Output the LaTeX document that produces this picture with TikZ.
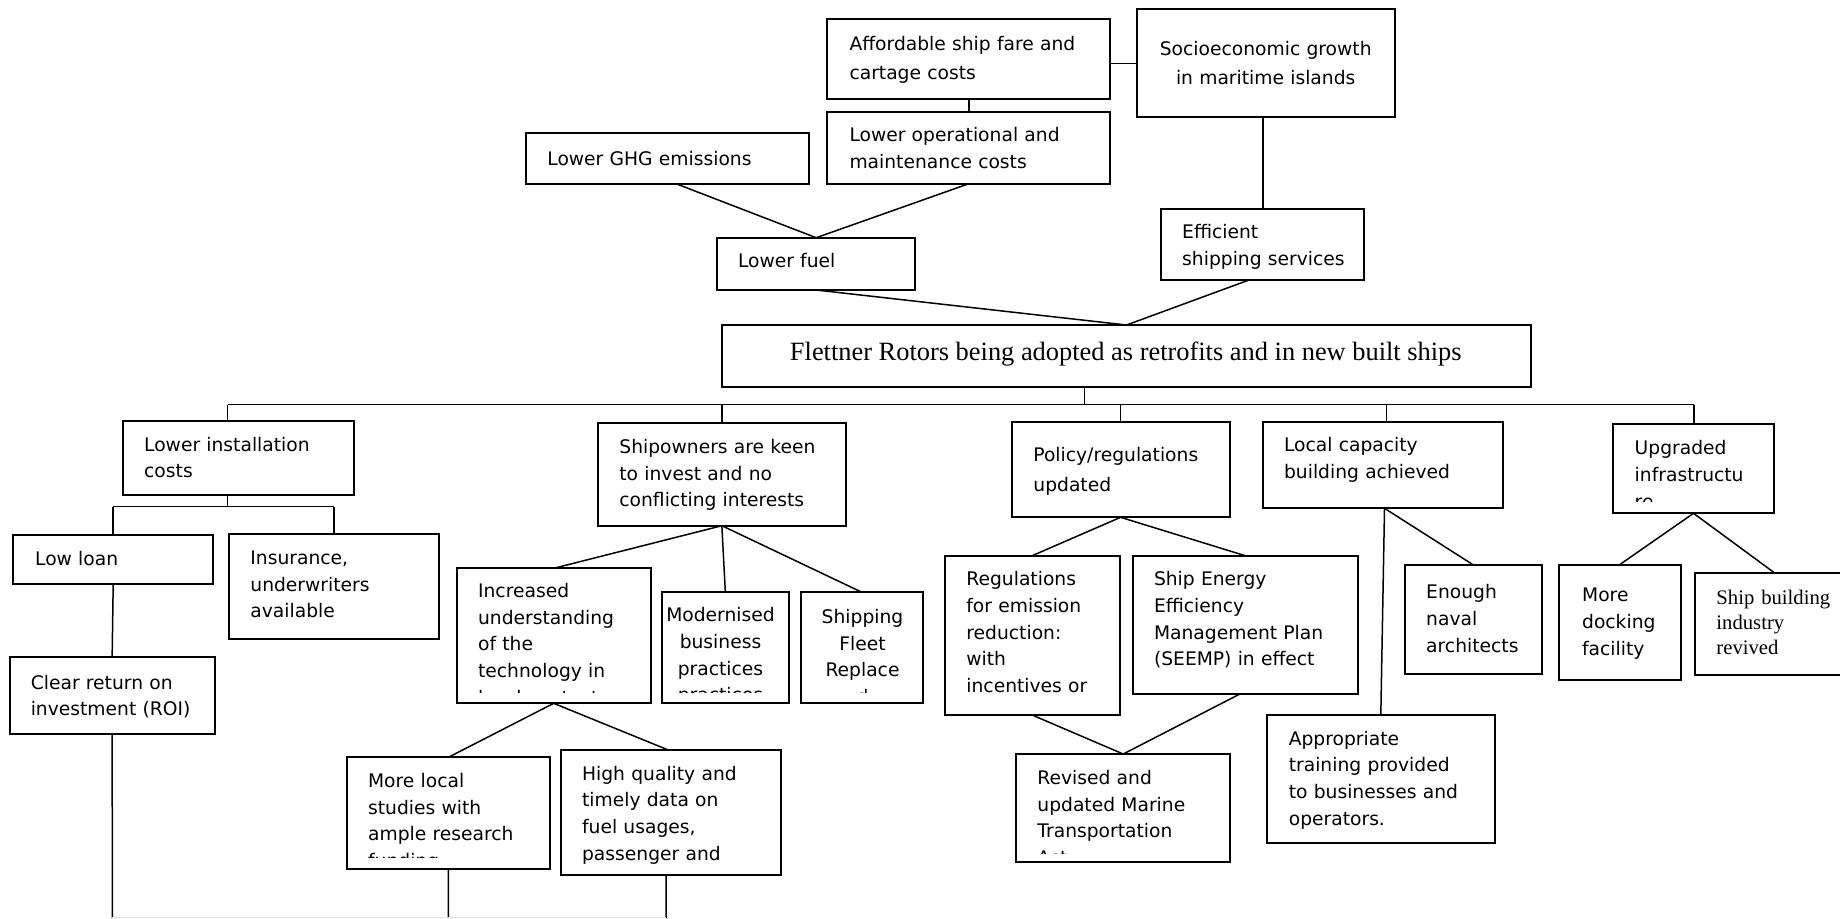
\documentclass[tikz,border=0pt]{standalone}
\usepackage{fontspec}
\setmainfont{DejaVu Sans}
\newfontfamily\timesfam{Liberation Serif}
% box from (x1,y1) to (x2,y2), coordinates in pixel units
\newcommand\mkbox[5]{\node[box, minimum width={(#4-#2)*0.5pt}, minimum height={(#5-#3)*0.5pt}] (#1) at (#2,#3) {};}
\newcommand\lh[1]{\fontsize{9.35pt}{#1}\selectfont}
\begin{document}
\begin{tikzpicture}[x=0.5pt,y=-0.5pt,
  box/.style={draw, fill=white, line width=1pt, inner sep=0pt, outer sep=0pt, anchor=north west},
  link/.style={line width=0.75pt},
  txt/.style={inner sep=0pt, anchor=base west, text width=170pt, align=left, font=\lh{13.35pt}},
  ctxt/.style={txt, anchor=base, align=center, text width=125pt},
]
\useasboundingbox (0,0) rectangle (1840,918);

% ---------- boxes ----------
\mkbox{afford}{827.4}{19}{1110.2}{99.3}
\mkbox{socio}{1136.6}{9.3}{1394.8}{117.3}
\mkbox{lowop}{827.4}{112.3}{1110.2}{183.7}
\mkbox{ghg}{526.4}{132.7}{808.6}{183.7}
\mkbox{fuel}{717}{237.7}{915.4}{290}
\mkbox{effic}{1161.3}{209}{1364.3}{280}
\mkbox{flet}{722.2}{325}{1530.8}{386.7}
\mkbox{inst}{122.8}{420.7}{354}{495}
\mkbox{loan}{13.4}{535}{213}{584.3}
\mkbox{ins}{229}{534}{438.8}{639}
\mkbox{roi}{9.6}{656.7}{214.7}{734}
\mkbox{ship}{597.7}{423.3}{846}{525.7}
\mkbox{incr}{456.7}{568.3}{650.7}{703.3}
\mkbox{mod}{661.7}{592.3}{789}{703.3}
\mkbox{fleet}{801}{592.3}{923}{703.3}
\mkbox{study}{346.7}{757.3}{550}{869}
\mkbox{hq}{560.7}{750}{780.7}{875}
\mkbox{pol}{1011.5}{421.7}{1229.7}{517.3}
\mkbox{loc}{1263.3}{421.7}{1502.5}{508.3}
\mkbox{upg}{1613}{424}{1774}{513.3}
\mkbox{reg}{944.8}{555.7}{1119.5}{715}
\mkbox{seemp}{1133}{555.7}{1357.5}{694.2}
\mkbox{rev}{1016}{754}{1230.4}{862.3}
\mkbox{appr}{1267}{715}{1494.6}{842.7}
\mkbox{enough}{1405.4}{565}{1541.5}{674}
\mkbox{dock}{1559}{564.5}{1680.7}{680}
\mkbox{shipb}{1695}{572.5}{1853}{674.5}

% ---------- texts ----------
\node[txt, font=\lh{14.35pt}] (t-afford) at (849.1,50.7) {Affordable ship fare and\\cartage costs};
\node[ctxt, font=\lh{14.15pt}] (t-socio) at (1265.7,55.7) {Socioeconomic growth\\in maritime islands};
\node[txt] (t-lowop) at (849.1,141.7) {Lower operational and\\maintenance costs};
\node[txt] (t-ghg) at (547,165.7) {Lower GHG emissions};
\node[txt] (t-fuel) at (737.6,267.7) {Lower fuel};
\node[txt] (t-effic) at (1181.8,238.3) {Efficient\\shipping services};
\node[inner sep=0pt, anchor=base, font=\timesfam\fontsize{13.2pt}{15pt}\selectfont] (t-flet) at (1125.8,360)
  {Flettner Rotors being adopted as retrofits and in new built ships};
\node[txt] (t-inst) at (143.8,451) {Lower installation\\costs};
\node[txt] (t-loan) at (34.8,565.7) {Low loan};
\node[txt] (t-ins) at (250,564.3) {Insurance,\\underwriters\\available};
\node[txt] (t-roi) at (30.4,689) {Clear return on\\investment (ROI)};
\node[txt] (t-ship) at (619,453.3) {Shipowners are keen\\to invest and no\\conflicting interests};
\begin{scope}
  \clip (456.7,568.3) rectangle (650.7,692.7);
  \node[txt] (t-incr) at (477.7,597.3) {Increased\\understanding\\of the\\technology in\\local context};
\end{scope}
\begin{scope}
  \clip (661.7,592.3) rectangle (789,692.7);
  \node[ctxt] (t-mod) at (720.5,621.7) {Modernised\\business\\practices\\practices};
\end{scope}
\begin{scope}
  \clip (801,592.3) rectangle (923,692);
  \node[ctxt] (t-fleet) at (862.5,623.3) {Shipping\\Fleet\\Replace\\d};
\end{scope}
\node[txt, font=\lh{14.65pt}] (t-pol) at (1033,461.7) {Policy/regulations\\updated};
\node[txt] (t-loc) at (1283.7,451.7) {Local capacity\\building achieved};
\begin{scope}
  \clip (1613,424) rectangle (1774,501.7);
  \node[txt, font=\lh{13.5pt}] (t-upg) at (1634.3,454) {Upgraded\\infrastructu\\re};
\end{scope}
\node[txt] (t-reg) at (966,585.7) {Regulations\\for emission\\reduction:\\with\\incentives or};
\node[txt] (t-seemp) at (1153.6,585.7) {Ship Energy\\Efficiency\\Management Plan\\(SEEMP) in effect};
\node[txt, font=\lh{13.5pt}] (t-enough) at (1425.8,598.3) {Enough\\naval\\architects};
\node[txt, font=\lh{13.5pt}] (t-dock) at (1581.7,601.7) {More\\docking\\facility};
\node[txt, font=\timesfam\fontsize{10.35pt}{12.65pt}\selectfont] (t-shipb) at (1716,604.3) {Ship building\\industry\\revived};
\begin{scope}
  \clip (1016,754) rectangle (1230.4,853);
  \node[txt] (t-rev) at (1037,784.3) {Revised and\\updated Marine\\Transportation\\Act};
\end{scope}
\node[txt] (t-appr) at (1288.4,745) {Appropriate\\training provided\\to businesses and\\operators.};
\begin{scope}
  \clip (346.7,757.3) rectangle (550,857);
  \node[txt] (t-study) at (367.7,787.3) {More local\\studies with\\ample research\\funding};
\end{scope}
\node[txt] (t-hq) at (581.7,780) {High quality and\\timely data on\\fuel usages,\\passenger and};

% ---------- connectors: upper part ----------
\draw[link] (socio.west) -- (socio.west -| afford.east);
\draw[link] (afford.south) -- (lowop.north);
\draw[link] ([xshift=4.25pt]ghg.south) -- (fuel.north);
\draw[link] (lowop.south) -- (fuel.north);
\draw[link] (effic.north) -- (effic.north |- socio.south);
\draw[link] (fuel.south) -- (flet.north);
\draw[link] ([xshift=-6.9pt]effic.south) -- (flet.north);

% ---------- main bus under the central box ----------
\coordinate (busL) at (227.7,404.5);
\coordinate (busR) at (1694,404.5);
\coordinate (fdrop) at ([xshift=-20.9pt]flet.south);
\draw[link] (busL) -- (busR);
\draw[link] (fdrop) -- (fdrop |- busR);
\draw[link] (busL) -- (busL |- inst.north);
\draw[link] (ship.north) -- (ship.north |- busL);
\draw[link] (pol.north) -- (pol.north |- busL);
\draw[link] ([xshift=1.8pt]loc.north) -- ([xshift=1.8pt]loc.north |- busL);
\draw[link] (busR) -- (busR |- upg.north);

% ---------- left branch ----------
\coordinate (ibus) at (227.7,506.7);
\draw[link] (busL |- inst.south) -- (ibus);
\draw[link] (loan.north |- ibus) -- (ins.north |- ibus);
\draw[link] (loan.north |- ibus) -- (loan.north);
\draw[link] (ins.north |- ibus) -- (ins.north);
\draw[link] (loan.south) -- (roi.north);
\coordinate (endA) at (112.4,918);
\coordinate (endB) at (448.3,918);
\coordinate (endC) at (666,918);
\draw[link] (roi.south) -- (endA);

% ---------- shipowners branch ----------
\draw[link] (ship.south) -- (incr.north);
\draw[link] (ship.south) -- (mod.north);
\draw[link] (ship.south) -- (fleet.north);
\draw[link] (incr.south) -- (study.north);
\draw[link] (incr.south) -- ([xshift=-1.2pt]hq.north);
\draw[link] (study.south) -- (endB);
\draw[link] ([xshift=-2.3pt]hq.south) -- (endC);
\draw[black!10, line width=0.5pt] (endA) ++(0,-1) -- ([yshift=0.5pt]endC);

% ---------- policy branch ----------
\draw[link] (pol.south) -- (reg.north);
\draw[link] (pol.south) -- (seemp.north);
\draw[link] (reg.south) -- (rev.north);
\draw[link] ([xshift=-2.9pt]seemp.south) -- (rev.north);

% ---------- capacity and infrastructure branches ----------
\draw[link] ([xshift=0.8pt]loc.south) -- (appr.north);
\draw[link] ([xshift=0.8pt]loc.south) -- (enough.north);
\draw[link] (upg.south) -- (dock.north);
\draw[link] (upg.south) -- (shipb.north);
\end{tikzpicture}
\end{document}
